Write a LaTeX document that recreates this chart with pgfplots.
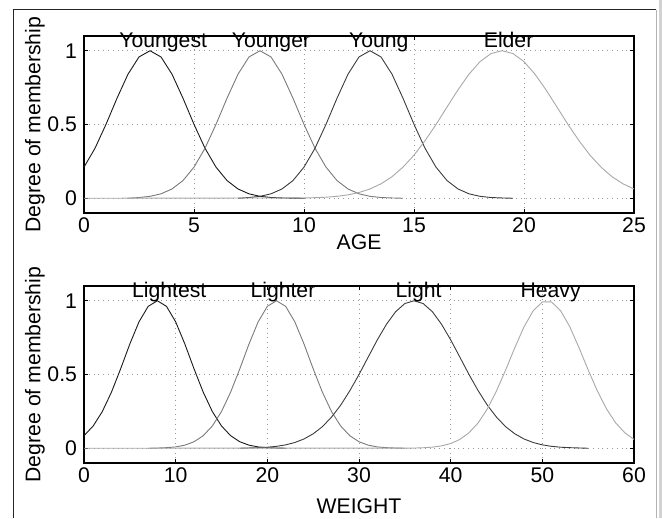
\documentclass[border=0pt]{standalone}
\usepackage{fontspec}
\setmainfont{Liberation Sans}
\usepackage{pgfplots}
\pgfplotsset{compat=1.18}

\definecolor{c1}{HTML}{1A1A1A}
\definecolor{c2}{HTML}{7A7A7A}
\definecolor{c3}{HTML}{3C3C3C}
\definecolor{c4}{HTML}{A8A8A8}

\pgfplotsset{
  mfaxis/.style={
    scale only axis, width=275pt, height=88.5pt,
    clip mode=individual,
    ymin=-0.1, ymax=1.1, ytick={0,0.5,1},
    yticklabels={0,0.5,1},
    tick align=inside, major tick length=2pt,
    xtick pos=both, ytick pos=both,
    grid=major, grid style={gray!80, dotted, line width=0.4pt},
    axis line style={black, line width=0.6pt},
    tick style={black, line width=0.5pt},
    font=\fontsize{10.6}{12}\selectfont,
    ticklabel style={font=\fontsize{10.6}{12}\selectfont},
    xticklabel style={yshift=1pt},
    /pgf/number format/assume math mode=true,
    ylabel={Degree of membership},
    ylabel style={yshift=-5.5pt},
    every axis plot/.append style={line width=0.45pt, no marks},
  },
}

\begin{document}
\begin{tikzpicture}
\path[use as bounding box] (0,0) rectangle (331pt,-259pt);
\draw[black!85, line width=0.5pt] (6.5pt,-259pt) -- (6.5pt,-5pt) -- (328pt,-5pt);
\draw[gray!60, line width=0.5pt] (328pt,-5pt) -- (328pt,-259pt);
\draw[gray!35, line width=1.2pt] (330.2pt,0pt) -- (330.2pt,-259pt);

% AGE
\begin{axis}[mfaxis, at={(42pt,-106.5pt)}, anchor=south west,
  xmin=0, xmax=25, xtick={0,5,10,15,20,25}, xlabel={AGE},
  xlabel style={yshift=6pt}]
\addplot[c1] coordinates {
(0,0.211)(0.5,0.339)(1,0.501)(1.5,0.678)(2,0.841)(2.5,0.958)(3,1)(3.5,0.958)
(4,0.841)(4.5,0.678)(5,0.501)(5.5,0.339)(6,0.211)(6.5,0.120)(7,0.063)(7.5,0.030)
(8,0.013)(8.5,0.005)(9,0.002)(10,0)};
\addplot[c2] coordinates {
(2,0)(2.5,0.005)(3,0.013)(3.5,0.030)(4,0.063)(4.5,0.120)(5,0.211)(5.5,0.339)
(6,0.501)(6.5,0.678)(7,0.841)(7.5,0.958)(8,1)(8.5,0.958)(9,0.841)(9.5,0.678)
(10,0.501)(10.5,0.339)(11,0.211)(11.5,0.120)(12,0.063)(12.5,0.030)(13,0.013)
(13.5,0.005)(14,0.002)(14.5,0)};
\addplot[c3] coordinates {
(7,0)(7.5,0.005)(8,0.013)(8.5,0.030)(9,0.063)(9.5,0.120)(10,0.211)(10.5,0.339)
(11,0.501)(11.5,0.678)(12,0.841)(12.5,0.958)(13,1)(13.5,0.958)(14,0.841)(14.5,0.678)
(15,0.501)(15.5,0.339)(16,0.211)(16.5,0.120)(17,0.063)(17.5,0.030)(18,0.013)
(18.5,0.005)(19,0.002)(19.5,0)};
\addplot[c4] coordinates {
(0,0)(10,0.002)(10.5,0.004)(11,0.007)(11.5,0.013)(12,0.023)(12.5,0.039)(13,0.063)
(13.5,0.098)(14,0.146)(14.5,0.211)(15,0.292)(15.5,0.390)(16,0.500)(16.5,0.618)
(17,0.735)(17.5,0.841)(18,0.926)(18.5,0.981)(19,1)(19.5,0.981)(20,0.926)(20.5,0.841)
(21,0.735)(21.5,0.618)(22,0.500)(22.5,0.390)(23,0.292)(23.5,0.211)(24,0.146)
(24.5,0.098)(25,0.063)};
\node[anchor=base] at (axis cs:3.6,1.02) {Youngest};
\node[anchor=base] at (axis cs:8.5,1.02) {Younger};
\node[anchor=base] at (axis cs:13.4,1.02) {Young};
\node[anchor=base] at (axis cs:19.3,1.02) {Elder};
\end{axis}

% WEIGHT
\begin{axis}[mfaxis, at={(42pt,-231.5pt)}, anchor=south west,
  xmin=0, xmax=60, xtick={0,10,20,30,40,50,60}, xlabel={WEIGHT},
  xlabel style={yshift=-1pt}]
\addplot[c1] coordinates {
(0,0.085)(1,0.151)(2,0.249)(3,0.381)(4,0.539)(5,0.707)(6,0.857)(7,0.962)(8,1)
(9,0.962)(10,0.857)(11,0.707)(12,0.539)(13,0.381)(14,0.249)(15,0.151)(16,0.085)
(17,0.044)(18,0.021)(19,0.009)(20,0.004)(21,0.0015)(22,0)};
\addplot[c2] coordinates {
(7,0)(8,0.0015)(9,0.004)(10,0.009)(11,0.021)(12,0.044)(13,0.085)(14,0.151)(15,0.249)
(16,0.381)(17,0.539)(18,0.707)(19,0.857)(20,0.962)(21,1)(22,0.962)(23,0.857)
(24,0.707)(25,0.539)(26,0.381)(27,0.249)(28,0.151)(29,0.085)(30,0.044)(31,0.021)
(32,0.009)(33,0.004)(34,0.0015)(35,0)};
\addplot[c3] coordinates {
(17,0)(18,0.002)(19,0.004)(20,0.007)(21,0.013)(22,0.023)(23,0.039)(24,0.063)(25,0.098)
(26,0.146)(27,0.211)(28,0.292)(29,0.390)(30,0.500)(31,0.618)(32,0.735)(33,0.841)
(34,0.926)(35,0.981)(36,1)(37,0.981)(38,0.926)(39,0.841)(40,0.735)(41,0.618)
(42,0.500)(43,0.390)(44,0.292)(45,0.211)(46,0.146)(47,0.098)(48,0.063)(49,0.039)
(50,0.023)(51,0.013)(52,0.007)(53,0.004)(54,0.002)(55,0)};
\addplot[c4] coordinates {
(0,0)(36,0.0014)(37,0.0034)(38,0.0076)(39,0.016)(40,0.032)(41,0.060)(42,0.105)
(43,0.172)(44,0.267)(45,0.389)(46,0.531)(47,0.682)(48,0.823)(49,0.932)(50,0.992)
(51,0.992)(52,0.932)(53,0.823)(54,0.682)(55,0.531)(56,0.389)(57,0.267)(58,0.172)
(59,0.105)(60,0.060)};
\node[anchor=base] at (axis cs:9.3,1.02) {Lightest};
\node[anchor=base] at (axis cs:21.7,1.02) {Lighter};
\node[anchor=base] at (axis cs:36.5,1.02) {Light};
\node[anchor=base] at (axis cs:50.9,1.02) {Heavy};
\end{axis}
\end{tikzpicture}
\end{document}
